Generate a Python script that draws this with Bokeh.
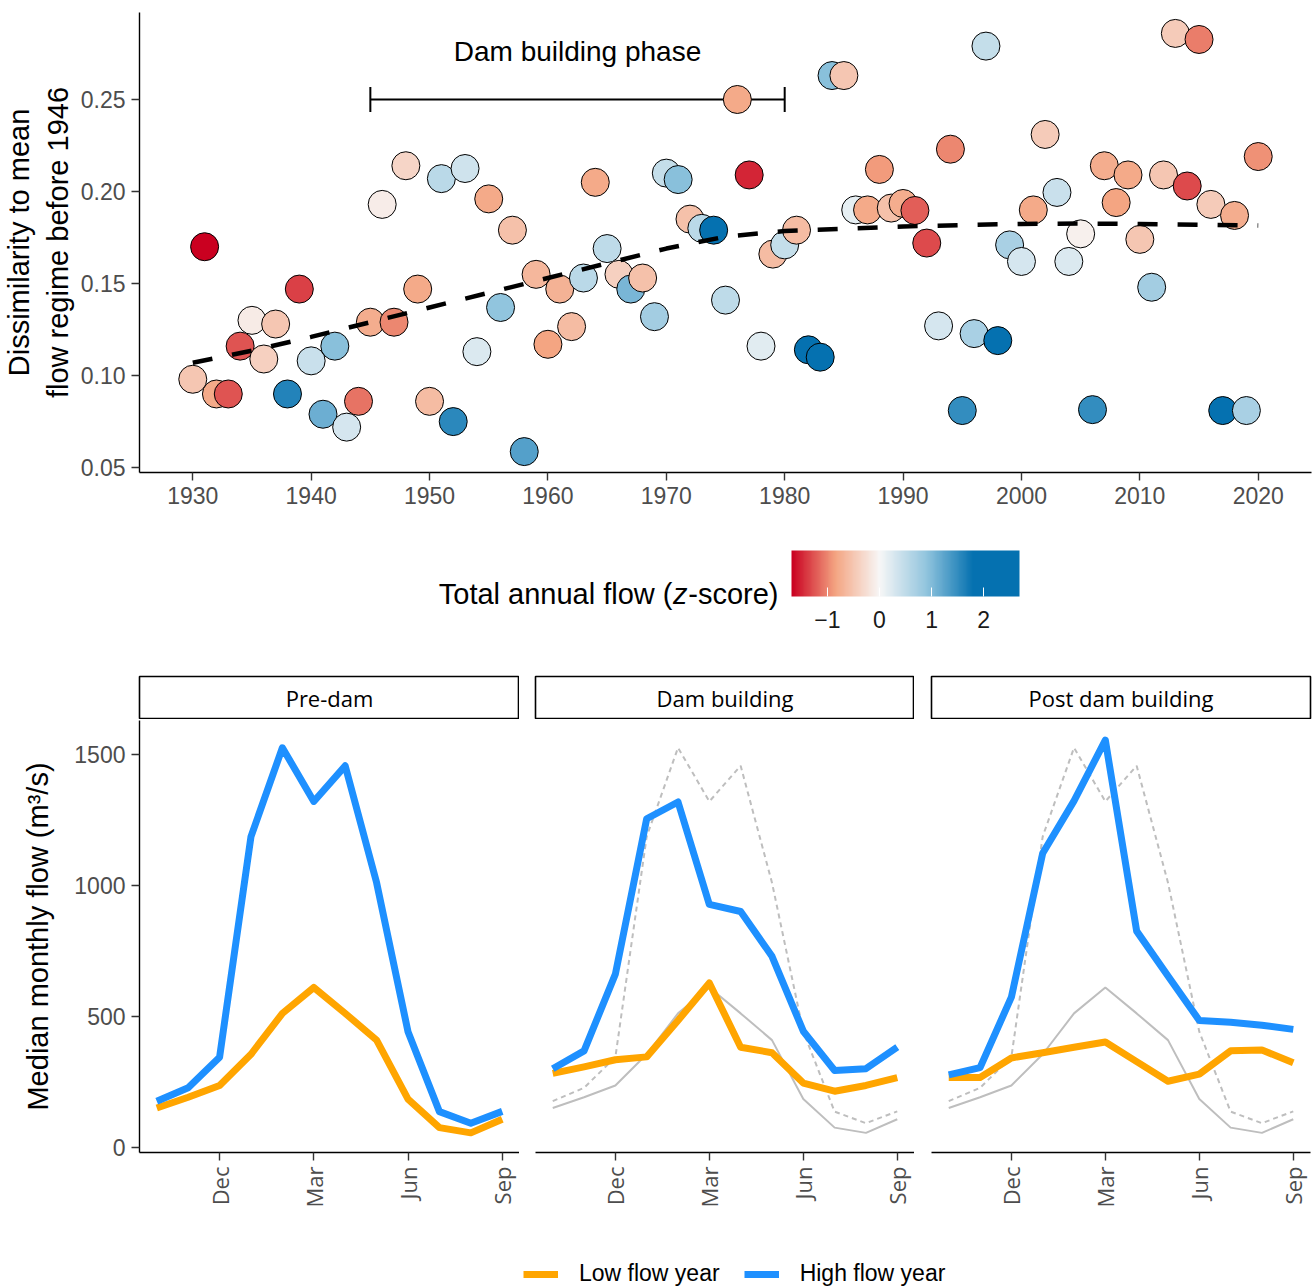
import math
from bokeh.plotting import figure
from bokeh.layouts import column, row
from bokeh.models import (Range1d, FixedTicker, LinearColorMapper, ColorBar,
                          Legend, LegendItem, ColumnDataSource)
from bokeh.core.properties import value
from bokeh.transform import transform
from bokeh.embed import file_html
from bokeh.resources import INLINE

# ---------------- data: top panel ----------------
years = [1930, 1931, 1932, 1933, 1934, 1935, 1936, 1937, 1938, 1939,
         1940, 1941, 1942, 1943, 1944, 1945, 1946, 1947, 1948, 1949,
         1950, 1951, 1952, 1953, 1954, 1955, 1956, 1957, 1958, 1959,
         1960, 1961, 1962, 1963, 1964, 1965, 1966, 1967, 1968, 1969,
         1970, 1971, 1972, 1973, 1974, 1975, 1976, 1977, 1978, 1979,
         1980, 1981, 1982, 1983, 1984, 1985, 1986, 1987, 1988, 1989,
         1990, 1991, 1992, 1993, 1994, 1995, 1996, 1997, 1998, 1999,
         2000, 2001, 2002, 2003, 2004, 2005, 2006, 2007, 2008, 2009,
         2010, 2011, 2012, 2013, 2014, 2015, 2016, 2017, 2018, 2019, 2020]
dissimilarity = [0.098, 0.170, 0.090, 0.090, 0.116, 0.130, 0.109, 0.128, 0.090, 0.147,
                 0.108, 0.079, 0.116, 0.072, 0.086, 0.129, 0.193, 0.129, 0.214, 0.147,
                 0.086, 0.207, 0.075, 0.2125, 0.113, 0.196, 0.137, 0.179, 0.0587, 0.155,
                 0.117, 0.147, 0.1266, 0.153, 0.205, 0.169, 0.155, 0.147, 0.153, 0.132,
                 0.210, 0.2065, 0.185, 0.180, 0.179, 0.141, 0.250, 0.209, 0.116, 0.166,
                 0.171, 0.179, 0.114, 0.110, 0.263, 0.263, 0.190, 0.190, 0.212, 0.191,
                 0.1935, 0.1897, 0.172, 0.127, 0.223, 0.081, 0.1228, 0.279, 0.119, 0.171,
                 0.162, 0.190, 0.231, 0.1995, 0.162, 0.177, 0.0815, 0.214, 0.194, 0.209,
                 0.174, 0.148, 0.209, 0.2859, 0.203, 0.2826, 0.193, 0.081, 0.187, 0.081, 0.219]
flow_zscore = [-0.5, -1.69, -0.8, -1.25, -1.25, -0.12, -0.4, -0.5, 1.6, -1.35,
               0.4, 1.15, 0.95, 0.3, -1.1, -0.75, -0.1, -1.0, -0.35, -0.8,
               -0.6, 0.55, 1.55, 0.35, 0.25, -0.8, 0.9, -0.55, 1.3, -0.65,
               -0.85, -0.7, -0.6, 0.55, -0.8, 0.5, -0.4, 1.05, -0.55, 0.75,
               0.45, 0.95, -0.55, 0.55, 2.2, 0.5, -0.8, -1.5, 0.2, -0.6,
               0.45, -0.6, 2.3, 2.69, 0.95, -0.5, 0.15, -0.8, -0.9, -0.55,
               -0.75, -1.2, -1.3, 0.3, -1.0, 1.5, 0.7, 0.45, 2.2, 0.7,
               0.3, -0.8, -0.45, 0.4, 0.25, -0.08, 1.5, -0.75, -0.85, -0.8,
               -0.5, 0.75, -0.5, -0.45, -1.3, -1.05, -0.45, 2.0, -0.75, 0.7, -0.95]
trend_years = [1930, 1935, 1940, 1945, 1950, 1955, 1960, 1965, 1970, 1975,
               1980, 1985, 1990, 1995, 2000, 2005, 2010, 2015, 2020]
trend_values = [0.107, 0.1135, 0.121, 0.129, 0.137, 0.145, 0.153, 0.161, 0.169, 0.1755,
                0.1785, 0.1798, 0.181, 0.1818, 0.1824, 0.1826, 0.1824, 0.182, 0.1815]
dam_phase = [1945, 1980]
dam_phase_y = 0.25
dam_label = "Dam building phase"
year_ticks = [1930, 1940, 1950, 1960, 1970, 1980, 1990, 2000, 2010, 2020]
dissim_ticks = [0.05, 0.10, 0.15, 0.20, 0.25]
zscore_ticks = [-1, 0, 1, 2]

# ---------------- data: bottom panels ----------------
month_names = ["Oct", "Nov", "Dec", "Jan", "Feb", "Mar", "Apr", "May", "Jun", "Jul", "Aug", "Sep"]
month_pos = [1, 2, 3, 4, 5, 6, 7, 8, 9, 10, 11, 12]
month_ticks = [3, 6, 9, 12]
flow_ticks = [0, 500, 1000, 1500]
pre_low = [150, 191, 236, 355, 511, 610, 511, 409, 184, 75, 55, 107]
pre_high = [176, 227, 344, 1186, 1525, 1320, 1456, 1010, 441, 136, 92, 137]
dam_low = [282, 307, 334, 345, 484, 627, 382, 361, 245, 214, 236, 266]
dam_high = [300, 368, 661, 1254, 1318, 927, 900, 729, 443, 293, 300, 382]
post_low = [266, 266, 341, 361, 382, 402, 327, 252, 279, 368, 371, 323]
post_high = [276, 304, 573, 1122, 1322, 1554, 825, 654, 484, 477, 466, 450]
panel_titles = ["Pre-dam", "Dam building", "Post dam building"]
legend_labels = ["Low flow year", "High flow year"]

# ---------------- style ----------------
FONT = "Liberation Sans"
STRIP_FONT = "Open Sans"
TICK_COL = "#4d4d4d"
LOW_COL = "#FFA500"
HIGH_COL = "#1E90FF"
REF_COL = "#bebebe"
LEFT = 138      # page x of the aligned plot frames (top, colour bar, legend)
RIGHT = 6

zlo, zhi = min(flow_zscore), max(flow_zscore)
color_stops = [(zlo, "#ca0020"), (-0.85, "#f4a582"), (0.0, "#f7f7f7"),
               (0.9, "#92c5de"), (1.8, "#0571b0"), (zhi, "#0571b0")]


def _rgb(h):
    return tuple(int(h[i:i + 2], 16) for i in (1, 3, 5))


palette = []
for i in range(256):
    z = zlo + (zhi - zlo) * i / 255
    for (z0, c0), (z1, c1) in zip(color_stops[:-1], color_stops[1:]):
        if z <= z1 or z1 == color_stops[-1][0]:
            t = 0.0 if z1 == z0 else min(max((z - z0) / (z1 - z0), 0.0), 1.0)
            a, b = _rgb(c0), _rgb(c1)
            palette.append("#%02x%02x%02x" % tuple(int(round(a[k] + (b[k] - a[k]) * t)) for k in range(3)))
            break

mapper = LinearColorMapper(palette=palette, low=zlo, high=zhi)


def style_axis(ax, label_size="23px"):
    ax.axis_line_color = "black"
    ax.axis_line_width = 1.4
    ax.major_tick_line_color = "#333333"
    ax.major_tick_line_width = 1.4
    ax.major_tick_out = 8
    ax.major_tick_in = 0
    ax.minor_tick_line_color = None
    ax.major_label_text_font = FONT
    ax.major_label_text_font_size = label_size
    ax.major_label_text_color = TICK_COL
    ax.major_label_standoff = 6
    ax.axis_label_text_font = FONT
    ax.axis_label_text_font_size = "29px"
    ax.axis_label_text_font_style = "normal"
    ax.axis_label_text_color = "black"


# ---------------- top figure ----------------
xpad = 0.05 * (max(years) - min(years))
ypad = 0.05 * (max(dissimilarity) - min(dissimilarity))
p = figure(frame_width=1316 - LEFT - RIGHT, frame_height=460, min_border_left=LEFT,
           min_border_right=RIGHT, min_border_top=12, min_border_bottom=48,
           x_range=Range1d(min(years) - xpad, max(years) + xpad),
           y_range=Range1d(min(dissimilarity) - ypad, max(dissimilarity) + ypad),
           output_backend="svg", toolbar_location=None)
p.outline_line_color = None
p.grid.visible = False
style_axis(p.xaxis[0])
style_axis(p.yaxis[0])
p.xaxis.ticker = FixedTicker(ticks=year_ticks)
p.yaxis.ticker = FixedTicker(ticks=dissim_ticks)
p.yaxis.major_label_overrides = {t: f"{t:.2f}" for t in dissim_ticks}
p.yaxis.axis_label = "Dissimilarity to mean\nflow regime before 1946"
p.yaxis.axis_label_standoff = 4

cap = 0.0068
p.segment(x0=[dam_phase[0]], y0=[dam_phase_y], x1=[dam_phase[1]], y1=[dam_phase_y],
          line_color="black", line_width=2)
p.segment(x0=dam_phase, y0=[dam_phase_y - cap] * 2, x1=dam_phase, y1=[dam_phase_y + cap] * 2,
          line_color="black", line_width=2)
p.text(x=[sum(dam_phase) / 2], y=[dam_phase_y + 0.026], text=[dam_label],
       text_align="center", text_baseline="middle", text_font=value(FONT),
       text_font_size="28px", text_color="black")

src = ColumnDataSource(dict(year=years, dissim=dissimilarity, z=flow_zscore))
p.scatter(x="year", y="dissim", source=src, size=28,
          fill_color=transform("z", mapper), line_color="black", line_width=1)
p.line(trend_years, trend_values, line_color="black", line_width=4.5, line_dash="20 20")

# ---------------- colour bar figure (x and y in page pixels) ----------------
CB_TOP = 520
CB_H = 145
pc = figure(frame_width=1316 - LEFT - RIGHT, frame_height=CB_H,
            x_range=Range1d(LEFT, 1316 - RIGHT), y_range=Range1d(CB_TOP + CB_H, CB_TOP),
            min_border_left=LEFT, min_border_right=RIGHT, min_border_top=0, min_border_bottom=0,
            x_axis_location=None, y_axis_location=None, output_backend="svg",
            toolbar_location=None)
pc.outline_line_color = None
pc.grid.visible = False
title_y = 593
right_edge = 777
pc.text(x=[right_edge], y=[title_y], text=["-score)"], text_align="right", text_baseline="middle",
        text_font=value(FONT), text_font_size="29px", text_color="black")
pc.text(x=[right_edge - 91], y=[title_y], text=["z"], text_align="right", text_baseline="middle",
        text_font=value(FONT), text_font_size="29px", text_font_style="italic", text_color="black")
pc.text(x=[right_edge - 106], y=[title_y], text=["Total annual flow ("], text_align="right",
        text_baseline="middle", text_font=value(FONT), text_font_size="29px", text_color="black")
cb = ColorBar(color_mapper=mapper, orientation="horizontal", width=228, height=46,
              location=(790 - LEFT, 35), padding=0, title=None,
              ticker=FixedTicker(ticks=zscore_ticks),
              major_label_overrides={t: (f"\u2212{abs(t)}" if t < 0 else str(t)) for t in zscore_ticks},
              major_label_text_font=FONT, major_label_text_font_size="23px",
              major_label_text_color="#1a1a1a", label_standoff=14,
              major_tick_line_color="white", major_tick_in=9, major_tick_out=0,
              minor_tick_line_color=None, bar_line_color=None,
              border_line_color=None, background_fill_alpha=0)
pc.add_layout(cb, "center")

# ---------------- facet panels ----------------
all_flows = pre_low + pre_high + dam_low + dam_high + post_low + post_high
fpad = 0.05 * (max(all_flows) - min(all_flows))
mpad = 0.05 * (max(month_pos) - min(month_pos))
geom = [(139, 0, 380), (16, 0, 379), (17, 6, 379)]
series = [(pre_low, pre_high), (dam_low, dam_high), (post_low, post_high)]

strips, panels = [], []
for k, (title, (bl, br, fw), (lo, hi)) in enumerate(zip(panel_titles, geom, series)):
    s = figure(frame_width=fw, frame_height=43, min_border_left=bl, min_border_right=br,
               min_border_top=11, min_border_bottom=0, x_range=Range1d(0, 1), y_range=Range1d(0, 1),
               x_axis_location=None, y_axis_location=None, output_backend="svg",
               toolbar_location=None)
    s.grid.visible = False
    s.outline_line_color = "black"
    s.outline_line_width = 1.6
    s.text(x=[0.5], y=[0.5], text=[title], text_align="center", text_baseline="middle",
           text_font=value(STRIP_FONT), text_font_size="22px", text_color="black")
    strips.append(s)

    q = figure(frame_width=fw, frame_height=432, min_border_left=bl, min_border_right=br,
               min_border_top=1, min_border_bottom=60,
               x_range=Range1d(min(month_pos) - mpad, max(month_pos) + mpad),
               y_range=Range1d(min(all_flows) - fpad, max(all_flows) + fpad),
               y_axis_location="left" if k == 0 else None,
               output_backend="svg", toolbar_location=None)
    q.outline_line_color = None
    q.grid.visible = False
    style_axis(q.xaxis[0])
    q.xaxis.ticker = FixedTicker(ticks=month_ticks)
    q.xaxis.major_label_overrides = {t: month_names[t - 1] for t in month_ticks}
    q.xaxis.major_label_orientation = math.pi / 2
    q.xaxis.major_label_text_font = STRIP_FONT
    q.xaxis.major_label_text_font_size = "22px"
    if k == 0:
        style_axis(q.yaxis[0])
        q.yaxis.ticker = FixedTicker(ticks=flow_ticks)
        q.yaxis.axis_label = "Median monthly flow (m\u00b3/s)"
        q.yaxis.axis_label_standoff = 17
    else:
        q.line(month_pos, pre_low, line_color=REF_COL, line_width=2)
        q.line(month_pos, pre_high, line_color=REF_COL, line_width=2, line_dash="5 4")
    q.line(month_pos, lo, line_color=LOW_COL, line_width=7, line_join="round")
    q.line(month_pos, hi, line_color=HIGH_COL, line_width=7, line_join="round")
    panels.append(q)

# ---------------- legend figure ----------------
# legend proxies: the pre-dam series, kept outside this figure's visible range
pl = figure(frame_width=1316 - LEFT - RIGHT, frame_height=75, min_border_left=LEFT,
            min_border_right=RIGHT, min_border_top=0, min_border_bottom=0,
            x_range=Range1d(-100, -99), y_range=Range1d(-100, -99),
            x_axis_location=None, y_axis_location=None, output_backend="svg",
            toolbar_location=None)
pl.outline_line_color = None
pl.grid.visible = False
r_low = pl.line(month_pos, pre_low, line_color=LOW_COL, line_width=7)
r_high = pl.line(month_pos, pre_high, line_color=HIGH_COL, line_width=7)
leg = Legend(items=[LegendItem(label=legend_labels[0], renderers=[r_low]),
                    LegendItem(label=legend_labels[1], renderers=[r_high])],
             orientation="horizontal", location=(522 - LEFT, 0), glyph_width=35, glyph_height=24,
             label_standoff=21, spacing=24, padding=0, margin=0, border_line_color=None,
             background_fill_alpha=0, label_text_font=FONT, label_text_font_size="23px",
             label_text_color="black")
pl.add_layout(leg, "center")

layout = column(p, pc, row(*strips), row(*panels), pl)
open("out.html", "w").write(file_html(layout, INLINE))
